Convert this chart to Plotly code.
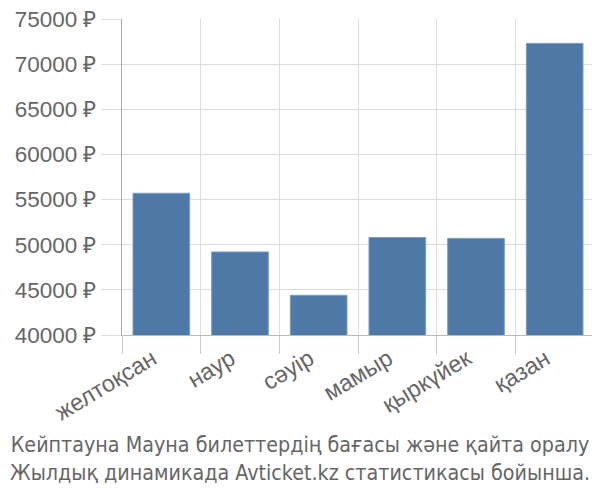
import plotly.graph_objects as go

categories = ["желтоқсан", "наур", "сәуір", "мамыр", "қыркүйек", "қазан"]
prices = [55700, 49200, 44400, 50800, 50700, 72300]
y_ticks = [40000, 45000, 50000, 55000, 60000, 65000, 70000, 75000]
title_lines = ["Кейптауна Мауна билеттердің бағасы және қайта оралу",
               "Жылдық динамикада Avticket.kz статистикасы бойынша."]

xpos = list(range(len(categories)))
bounds = [i - 0.5 for i in range(len(categories) + 1)]

fig = go.Figure(go.Bar(
    x=xpos, y=prices,
    marker=dict(color="#4e79a7", line=dict(color="#7a9cc4", width=1)),
    width=0.72,
))

fig.update_layout(
    width=600, height=500,
    margin=dict(l=114, r=14, t=11, b=173, autoexpand=False),
    plot_bgcolor="white", paper_bgcolor="white",
    font=dict(family="Liberation Sans, Arial, sans-serif", size=23, color="#666666"),
    showlegend=False,
)
fig.update_xaxes(
    range=[-0.5, len(categories) - 0.5], automargin=False,
    tickvals=xpos, ticktext=categories, tickangle=-31,
    ticklabelshift=-9, ticklabeloverflow="allow",
    showgrid=False, ticks="", zeroline=False,
    showline=True, linecolor="#bbbbbb", linewidth=1,
    minor=dict(tickvals=bounds, showgrid=True, gridcolor="#dddddd", gridwidth=1,
               ticks="outside", ticklen=18, tickcolor="#cccccc"),
    tickfont=dict(size=23.5, color="#666666"),
)
fig.update_yaxes(
    range=[40000, 75000], tickvals=y_ticks, automargin=False,
    ticktext=[f"{v} ₽" for v in y_ticks], ticklabeloverflow="allow",
    showgrid=True, gridcolor="#dddddd", gridwidth=1,
    ticks="outside", ticklen=20, tickcolor="#dddddd",
    showline=True, linecolor="#aaaaaa", linewidth=1, zeroline=False,
    tickfont=dict(size=22.5, color="#666666"),
)
fig.add_annotation(
    text="<br>".join(title_lines), xref="paper", yref="paper",
    x=0.5, y=-0.30, xanchor="center", yanchor="top", showarrow=False,
    align="center",
    font=dict(family="DejaVu Sans Condensed, Liberation Sans, sans-serif", size=21.3, color="#666666"),
    xshift=-58,
)
fig.write_html("out.html")
